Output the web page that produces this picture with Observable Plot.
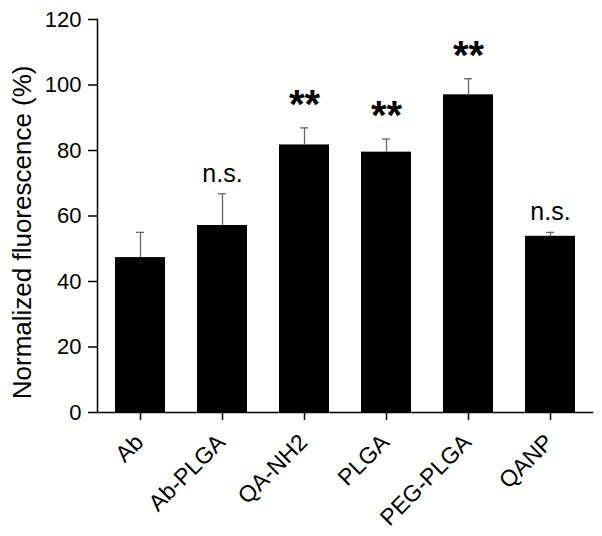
<!DOCTYPE html>
<html>
<head>
<meta charset="utf-8">
<script src="https://cdn.jsdelivr.net/npm/d3@7"></script>
<script src="https://cdn.jsdelivr.net/npm/@observablehq/plot@0.6"></script>
<style>
  html, body { margin: 0; padding: 0; background: #fff; }
</style>
</head>
<body>
<div id="chart"></div>
<script>
const groups = ["Ab", "Ab-PLGA", "QA-NH2", "PLGA", "PEG-PLGA", "QANP"];
const means = [47.3, 57.1, 81.7, 79.5, 97.0, 53.8];
const errs = [7.7, 9.7, 5.2, 4.0, 4.9, 1.2];
const sig = ["", "n.s.", "**", "**", "**", "n.s."];
const yTicks = [0, 20, 40, 60, 80, 100, 120];
const refLine = [100];
const yLabel = "Normalized fluorescence (%)";

const data = groups.map((g, i) => ({g, m: means[i], top: means[i] + errs[i], s: sig[i]}));
const ns = data.filter(d => d.s === "n.s.");
const stars = data.filter(d => d.s === "**");

const font = "'Liberation Sans', Arial, Helvetica, sans-serif";

const plot = Plot.plot({
  width: 602,
  height: 536,
  marginLeft: 97,
  marginRight: 10,
  marginTop: 19,
  marginBottom: 124,
  style: {fontFamily: font, background: "#fff", color: "#000"},
  x: {domain: groups, paddingInner: 0.394, paddingOuter: 0.197, label: null},
  y: {domain: [0, 120], label: null},
  marks: [
    Plot.barY(data, {x: "g", y: "m", fill: "#000"}),
    Plot.ruleX(data, {x: "g", y1: "m", y2: "top", stroke: "#666", strokeWidth: 1.3}),
    Plot.tickY(data, {x: "g", y: "top", stroke: "#666", strokeWidth: 1.3, insetLeft: 21, insetRight: 21}),
    Plot.ruleY(refLine, {x1: groups[0], x2: groups[5], stroke: "#2a7b86", strokeWidth: 2.5, strokeDasharray: "7,4", insetLeft: -41, insetRight: -27}),
    Plot.text(ns, {x: "g", y: "top", text: "s", fontSize: 25, lineAnchor: "bottom", dy: -12, fill: "#000"}),
    Plot.text(stars, {x: "g", y: "top", text: "s", fontSize: 40, fontWeight: "bold", lineAnchor: "bottom", dy: -10, fill: "#000"}),
    Plot.axisY({ticks: yTicks, tickSize: 9, text: null, stroke: "#000", strokeWidth: 1.5}),
    Plot.text(yTicks, {frameAnchor: "left", y: d => d, text: d => String(d), dx: -16, textAnchor: "end", fontSize: 22, fill: "#000"}),
    Plot.text([yLabel], {frameAnchor: "left", y: 55, text: d => d, rotate: -90, dx: -75, fontSize: 26, textAnchor: "middle", lineAnchor: "middle", fill: "#000"}),
    Plot.axisX({tickSize: 8, text: null, stroke: "#000", strokeWidth: 1.5}),
    Plot.text(groups, {x: d => d, frameAnchor: "bottom", text: d => d, rotate: -45, textAnchor: "end", lineAnchor: "middle", dx: -1, dy: 26, fontSize: 23, fill: "#000"}),
    Plot.frame({anchor: "left", stroke: "#000", strokeWidth: 1.5}),
    Plot.frame({anchor: "bottom", stroke: "#000", strokeWidth: 1.5})
  ]
});
document.getElementById("chart").appendChild(plot);
</script>
</body>
</html>
